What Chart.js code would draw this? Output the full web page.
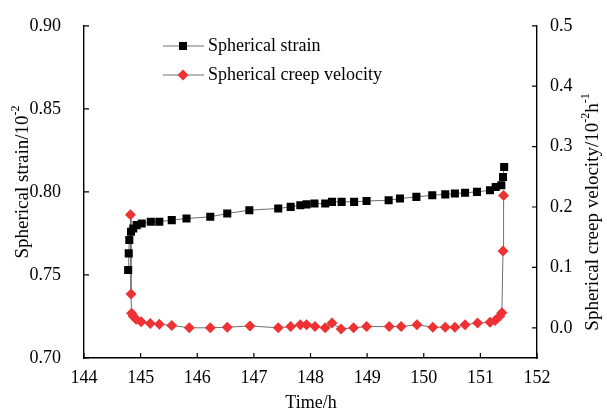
<!DOCTYPE html>
<html>
<head>
<meta charset="utf-8">
<script src="https://cdn.jsdelivr.net/npm/chart.js@4"></script>
<style>
  html, body { margin: 0; padding: 0; background: #fff; }
  #wrap { width: 607px; height: 415px; position: relative; }
</style>
</head>
<body>
<div id="wrap"><canvas id="chart" width="607" height="415"></canvas></div>
<script>
// time in hours, strain in 10^-2
const strainTime  = [144.78, 144.79, 144.80, 144.83, 144.87, 144.93, 145.02, 145.18, 145.33, 145.55, 145.81,
                     146.23, 146.53, 146.92, 147.43, 147.65, 147.82, 147.93, 148.07, 148.26, 148.38, 148.55,
                     148.77, 148.99, 149.38, 149.58, 149.87, 150.15, 150.38, 150.55, 150.73, 150.94, 151.17,
                     151.27, 151.37, 151.40, 151.42];
const strainValue = [0.753, 0.763, 0.771, 0.776, 0.778, 0.780, 0.781, 0.782, 0.782, 0.783, 0.784,
                     0.785, 0.787, 0.789, 0.790, 0.791, 0.792, 0.7925, 0.793, 0.793, 0.794, 0.794,
                     0.794, 0.7945, 0.795, 0.796, 0.797, 0.798, 0.7985, 0.799, 0.7995, 0.800, 0.801,
                     0.803, 0.804, 0.809, 0.815];

// creep velocity in 10^-2 h^-1
const velocityTime  = [144.82, 144.83, 144.84, 144.87, 144.92, 145.01, 145.17, 145.33, 145.55, 145.86,
                       146.23, 146.53, 146.93, 147.43, 147.65, 147.82, 147.93, 148.08, 148.26, 148.38,
                       148.54, 148.76, 148.99, 149.39, 149.60, 149.88, 150.16, 150.38, 150.55, 150.73,
                       150.95, 151.17, 151.26, 151.34, 151.38, 151.40, 151.41];
const velocityValue = [0.187, 0.056, 0.024, 0.019, 0.014, 0.010, 0.007, 0.006, 0.004, 0.000,
                       0.000, 0.001, 0.003, 0.000, 0.002, 0.005, 0.005, 0.002, 0.000, 0.008,
                       -0.002, 0.000, 0.002, 0.002, 0.002, 0.005, 0.001, 0.001, 0.001, 0.005,
                       0.008, 0.009, 0.012, 0.019, 0.025, 0.127, 0.219];

const timeTicks   = [144, 145, 146, 147, 148, 149, 150, 151, 152];
const strainTicks = [0.70, 0.75, 0.80, 0.85, 0.90];
const velTicks    = [0.0, 0.1, 0.2, 0.3, 0.4, 0.5];

const FONT = "'Liberation Serif', 'Times New Roman', serif";
const RED = '#ee3234';
const LINE = '#6f6f6f';

const pts = (xs, ys) => xs.map((x, i) => ({ x, y: ys[i] }));
const fixTicks = (arr) => (scale) => { scale.ticks = arr.map(v => ({ value: v })); };

// text with superscripts, centred on (x, y), rotated by rot
const drawRich = (ctx, parts, x, y, rot, size = 19) => {
  const big = `${size}px ${FONT}`, small = `${Math.round(size * 0.65)}px ${FONT}`;
  let total = 0;
  parts.forEach(p => { ctx.font = p.sup ? small : big; total += ctx.measureText(p.t).width; });
  ctx.save();
  ctx.translate(x, y);
  ctx.rotate(rot);
  ctx.fillStyle = '#000';
  ctx.textBaseline = 'middle';
  ctx.textAlign = 'left';
  let cx = -total / 2;
  parts.forEach(p => {
    ctx.font = p.sup ? small : big;
    ctx.fillText(p.t, cx, p.sup ? -size * 0.4 : 0);
    cx += ctx.measureText(p.t).width;
  });
  ctx.restore();
};

const decor = {
  id: 'decor',
  afterDraw(chart) {
    const { ctx, chartArea: a, scales } = chart;
    ctx.save();
    ctx.strokeStyle = '#000';
    ctx.lineWidth = 1.2;
    ctx.beginPath();
    timeTicks.forEach(v => { const px = scales.x.getPixelForValue(v); ctx.moveTo(px, a.bottom); ctx.lineTo(px, a.bottom - 5); });
    strainTicks.forEach(v => { const py = scales.y.getPixelForValue(v); ctx.moveTo(a.left, py); ctx.lineTo(a.left + 5, py); });
    velTicks.forEach(v => { const py = scales.y2.getPixelForValue(v); ctx.moveTo(a.right, py); ctx.lineTo(a.right - 5, py); });
    ctx.stroke();

    // axis titles
    drawRich(ctx, [{ t: 'Spherical strain/10' }, { t: '-2', sup: true }], 23, 182, -Math.PI / 2);
    drawRich(ctx, [{ t: 'Spherical creep velocity/10' }, { t: '-2', sup: true }, { t: 'h' }, { t: '-1', sup: true }], 593, 212, -Math.PI / 2);
    drawRich(ctx, [{ t: 'Time/h' }], 311, 403, 0, 18);

    // legend
    const rows = [
      { y: 46, label: 'Spherical strain', mark: 'sq' },
      { y: 75, label: 'Spherical creep velocity', mark: 'di' },
    ];
    rows.forEach(r => {
      ctx.strokeStyle = LINE; ctx.lineWidth = 1;
      ctx.beginPath(); ctx.moveTo(163, r.y); ctx.lineTo(204, r.y); ctx.stroke();
      if (r.mark === 'sq') { ctx.fillStyle = '#000'; ctx.fillRect(179, r.y - 4, 8, 8); }
      else {
        ctx.fillStyle = RED; ctx.beginPath();
        ctx.moveTo(183, r.y - 5.5); ctx.lineTo(188.5, r.y); ctx.lineTo(183, r.y + 5.5); ctx.lineTo(177.5, r.y);
        ctx.closePath(); ctx.fill();
      }
      ctx.fillStyle = '#000'; ctx.font = `18px ${FONT}`; ctx.textBaseline = 'middle'; ctx.textAlign = 'left';
      ctx.fillText(r.label, 208, r.y);
    });
    ctx.restore();
  }
};

const axisBase = {
  grid: { display: false },
  border: { display: true, color: '#000', width: 1.4 },
  ticks: { color: '#000', font: { family: FONT, size: 18 } },
};

new Chart(document.getElementById('chart'), {
  type: 'scatter',
  data: {
    datasets: [
      {
        label: 'Spherical strain', data: pts(strainTime, strainValue), yAxisID: 'y',
        showLine: true, borderColor: LINE, borderWidth: 1,
        pointStyle: 'rect', pointRadius: 5.7, pointBorderWidth: 0,
        pointBackgroundColor: '#000', pointBorderColor: '#000',
      },
      {
        label: 'Spherical creep velocity', data: pts(velocityTime, velocityValue), yAxisID: 'y2',
        showLine: true, borderColor: LINE, borderWidth: 1,
        pointStyle: 'rectRot', pointRadius: 5.5, pointBorderWidth: 0,
        pointBackgroundColor: RED, pointBorderColor: RED,
      },
    ]
  },
  options: {
    responsive: false,
    animation: false,
    layout: { padding: { top: 24, left: 0, right: 0, bottom: 0 } },
    plugins: { legend: { display: false }, tooltip: { enabled: false } },
    scales: {
      x: {
        ...axisBase, type: 'linear', min: 144, max: 152,
        ticks: { ...axisBase.ticks, stepSize: 1, padding: 1, maxRotation: 0 },
        afterBuildTicks: fixTicks(timeTicks),
        afterFit: (s) => { s.height = 57; },
      },
      y: {
        ...axisBase, position: 'left', min: 0.70, max: 0.90,
        ticks: { ...axisBase.ticks, padding: 15, callback: v => v.toFixed(2) },
        afterBuildTicks: fixTicks(strainTicks),
        afterFit: (s) => { s.width = 84; },
      },
      y2: {
        ...axisBase, position: 'right', min: -0.05, max: 0.5,
        ticks: { ...axisBase.ticks, padding: 5, callback: v => v.toFixed(1) },
        afterBuildTicks: fixTicks(velTicks),
        afterFit: (s) => { s.width = 70; },
      },
    }
  },
  plugins: [decor]
});
</script>
</body>
</html>
